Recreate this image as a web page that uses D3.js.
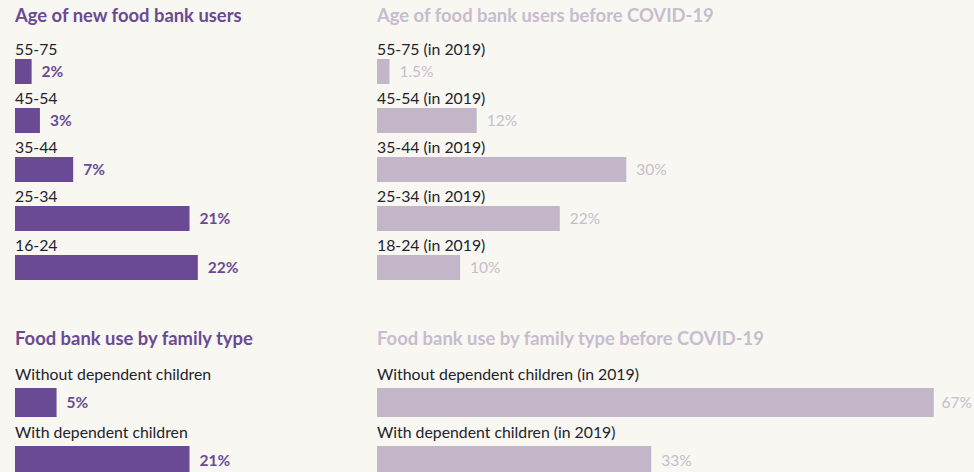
<!DOCTYPE html>
<html><head><meta charset="utf-8">
<script src="https://cdn.jsdelivr.net/npm/d3@7"></script>
<style>
html,body{margin:0;padding:0;background:#f8f7f1;}
svg{display:block;}
</style></head><body>
<svg id="chart" width="974" height="472"></svg>
<script>
const ageNewCats = ["55-75","45-54","35-44","25-34","16-24"];
const ageNewVals = [2,3,7,21,22];
const ageNewLabels = ["2%","3%","7%","21%","22%"];

const ageOldCats = ["55-75 (in 2019)","45-54 (in 2019)","35-44 (in 2019)","25-34 (in 2019)","18-24 (in 2019)"];
const ageOldVals = [1.5,12,30,22,10];
const ageOldLabels = ["1.5%","12%","30%","22%","10%"];

const famNewCats = ["Without dependent children","With dependent children"];
const famNewVals = [5,21];
const famNewLabels = ["5%","21%"];

const famOldCats = ["Without dependent children (in 2019)","With dependent children (in 2019)"];
const famOldVals = [67,33];
const famOldLabels = ["67%","33%"];

const titles = ["Age of new food bank users","Age of food bank users before COVID-19","Food bank use by family type","Food bank use by family type before COVID-19"];

const DARK = "#6a4a94", LIGHT = "#c4b6c9", LIGHT_T = "#c8bccf", TEXT = "#23232d";
const FONT = "Lato, 'Open Sans', sans-serif";
const W = 974;

const svg = d3.select("#chart");
const x = d3.scaleLinear().domain([0,100]).range([0,831]);

function panel(cfg){
  const g = svg.append("g").attr("transform",`translate(${cfg.x},0)`);
  g.append("text").attr("x",0).attr("y",cfg.titleY)
    .attr("font-family",FONT).attr("font-weight",700).attr("font-size",18.4)
    .attr("fill",cfg.titleColor).text(cfg.title);
  const y = d3.scaleBand().domain(cfg.cats).range([cfg.y0, cfg.y0 + cfg.step*cfg.cats.length]).paddingInner(0).paddingOuter(0);
  const rows = g.selectAll("g.row").data(cfg.cats.map((c,i)=>({c,v:cfg.vals[i],l:cfg.labels[i]})))
    .join("g").attr("class","row").attr("transform",d=>`translate(0,${y(d.c)})`);
  rows.append("text").attr("x",0).attr("y",cfg.catBase)
    .attr("font-family",FONT).attr("font-size",15.8).attr("fill",TEXT).text(d=>d.c);
  rows.append("rect").attr("x",0).attr("y",cfg.barTop).attr("width",d=>x(d.v)).attr("height",cfg.barH)
    .attr("fill",cfg.barColor);
  rows.append("text").attr("y",cfg.barTop+cfg.barH/2+5.5)
    .attr("font-family",FONT).attr("font-weight",cfg.valWeight).attr("font-size",15.5)
    .attr("fill",cfg.valColor).text(d=>d.l)
    .attr("x",function(d){
      const w = this.getComputedTextLength();
      return Math.min(x(d.v)+10, W - cfg.x - w - 2);
    });
}

panel({x:15,title:titles[0],titleY:22,titleColor:DARK,cats:ageNewCats,vals:ageNewVals,labels:ageNewLabels,
  y0:40,step:49,catBase:15,barTop:19,barH:25,barColor:DARK,valColor:DARK,valWeight:700});
panel({x:377,title:titles[1],titleY:22,titleColor:LIGHT_T,cats:ageOldCats,vals:ageOldVals,labels:ageOldLabels,
  y0:40,step:49,catBase:15,barTop:19,barH:25,barColor:LIGHT,valColor:LIGHT_T,valWeight:400});
panel({x:15,title:titles[2],titleY:345,titleColor:DARK,cats:famNewCats,vals:famNewVals,labels:famNewLabels,
  y0:360,step:58,catBase:20,barTop:28,barH:29,barColor:DARK,valColor:DARK,valWeight:700});
panel({x:377,title:titles[3],titleY:345,titleColor:LIGHT_T,cats:famOldCats,vals:famOldVals,labels:famOldLabels,
  y0:360,step:58,catBase:20,barTop:28,barH:29,barColor:LIGHT,valColor:LIGHT_T,valWeight:400});
</script>
</body></html>
